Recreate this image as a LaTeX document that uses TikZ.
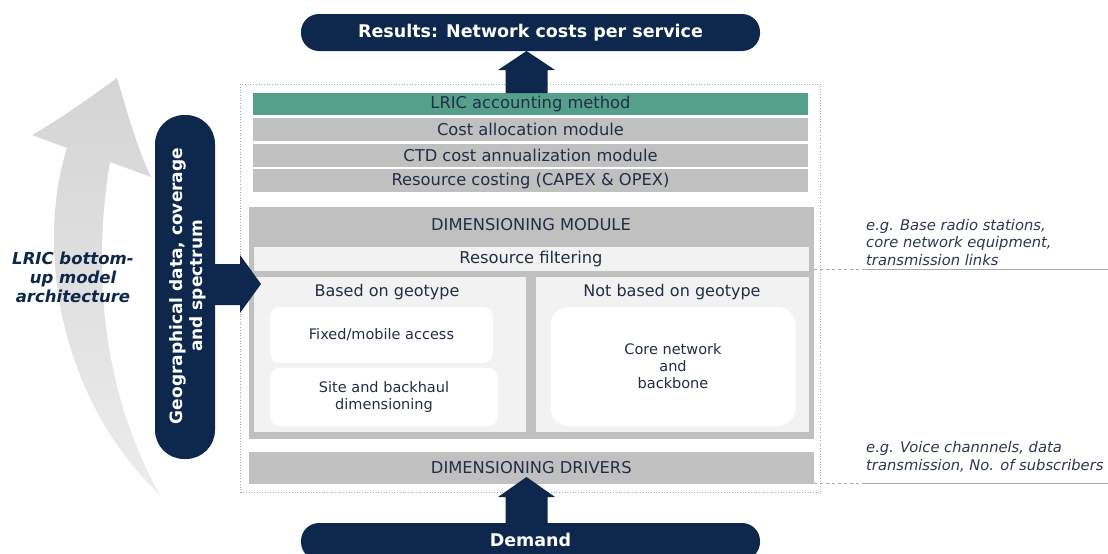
\documentclass[tikz,border=0pt]{standalone}
\usepackage{fontspec}
\setmainfont{DejaVu Sans}
\usetikzlibrary{calc}
\definecolor{navy}{RGB}{13,40,76}
\definecolor{boxgray}{RGB}{192,192,192}
\definecolor{tealband}{RGB}{84,160,139}
\definecolor{panel}{RGB}{242,242,242}
\definecolor{txt}{RGB}{35,45,70}
\definecolor{annot}{RGB}{45,55,80}
\definecolor{arrowtop}{RGB}{212,212,212}
\definecolor{arrowbottom}{RGB}{236,236,236}
\definecolor{frame}{RGB}{170,170,170}
\begin{document}
\begin{tikzpicture}[x=1pt,y=-1pt,
  band/.style={draw=none, inner sep=0pt, outer sep=0pt, text=txt,
    font=\fontsize{16.3}{19}\selectfont},
  pill/.style={fill=navy, draw=none, rounded corners=18pt, inner sep=0pt, outer sep=0pt,
    text=white, font=\bfseries\fontsize{17.5}{20}\selectfont},
  inner/.style={fill=white, draw=none, rounded corners=10pt, inner sep=0pt, outer sep=0pt,
    text=txt, align=center, font=\fontsize{14.5}{17}\selectfont},
  annotext/.style={inner sep=0pt, text=annot, align=left,
    font=\itshape\fontsize{14.7}{17.8}\selectfont},
  guide/.style={draw=frame, line width=0.7pt},
  blockarrow/.style={fill=navy, draw=none}
]
\useasboundingbox (0,0) rectangle (1108,554);

% curved gray arrow
\shade[top color=arrowtop, bottom color=arrowbottom]
  (117,78) .. controls (128,115) and (138,150) .. (151,177)
  -- (110,162) .. controls (95,250) and (95,380) .. (160,495)
  .. controls (60,400) and (35,250) .. (67,148)
  -- (32,135) .. controls (62,118) and (92,96) .. (117,78) -- cycle;

\node[inner sep=0pt, text=navy, align=center,
  font=\bfseries\itshape\fontsize{16.5}{19}\selectfont] (lricarch) at (73,277)
  {LRIC bottom-\\up model\\architecture};

% outer dotted frame
\node[draw=frame, dotted, line width=0.7pt, minimum width=580pt, minimum height=408.5pt,
  inner sep=0pt, outer sep=0pt] (frame) at (530.5,288.25) {};

% top result pill
\node[pill, minimum width=459pt, minimum height=37pt] (results) at (530.5,32.5)
  {Results: Network costs per service};

% stacked bands
\node[band, fill=tealband, minimum width=555pt, minimum height=22.5pt] (lric) at (530.5,104) {LRIC accounting method};
\node[band, fill=boxgray, minimum width=555pt, minimum height=23pt] (costalloc) at (530.5,129) {Cost allocation module};
\node[band, fill=boxgray, minimum width=555pt, minimum height=23pt] (ctd) at (530.5,155) {CTD cost annualization module};
\node[band, fill=boxgray, minimum width=555pt, minimum height=23pt] (rescost) at (530.5,180.8) {Resource costing (CAPEX \& OPEX)};

% dimensioning module
\node[band, fill=boxgray, minimum width=564.6pt, minimum height=232pt] (dimmod) at (531.3,323) {};
\node[band] (dimtitle) at (531,225) {DIMENSIONING MODULE};
\node[band, fill=panel, minimum width=555pt, minimum height=24pt] (resfilter) at (531,258.7) {Resource filtering};
\node[band, fill=panel, minimum width=272pt, minimum height=155pt] (leftpanel) at (389.7,354.5) {};
\node[band, fill=panel, minimum width=272.6pt, minimum height=155pt] (rightpanel) at (672.3,354.5) {};
\node[band, font=\fontsize{16}{18}\selectfont] (geo) at (387,292) {Based on geotype};
\node[band, font=\fontsize{16}{18}\selectfont] (nongeo) at (672,292) {Not based on geotype};
\node[inner, minimum width=223pt, minimum height=56pt] (access) at (381.5,335) {Fixed/mobile access};
\node[inner, minimum width=228pt, minimum height=58pt] (site) at (384,397) {Site and backhaul\\dimensioning};
\node[inner, rounded corners=18pt, minimum width=245pt, minimum height=119pt] (core) at (673,366.5) {};
\node[inner] (coretext) at (673,366.5) {Core network\\and\\backbone};

% dimensioning drivers
\node[band, fill=boxgray, minimum width=564.6pt, minimum height=32pt] (drivers) at (531.3,468) {DIMENSIONING DRIVERS};

% demand pill
\node[pill, minimum width=459pt, minimum height=37pt] (demand) at (530.5,541.5) {};
\node[inner sep=0pt, text=white, font=\bfseries\fontsize{17.5}{20}\selectfont] (demandtext) at (530.5,540) {Demand};

% left pill
\node[pill, rounded corners=29pt, minimum width=60pt, minimum height=344pt] (geopill) at (185,287) {};
\node[inner sep=0pt, text=white, align=center, rotate=90,
  font=\bfseries\fontsize{17}{20}\selectfont] (geotext) at (188,286)
  {Geographical data, coverage\\and spectrum};

% block arrows
\fill[blockarrow] (505.5,93) -- (505.5,70) -- (498,70) -- (526.5,51) -- (555,70) -- (547.6,70) -- (547.6,93) -- cycle;
\fill[blockarrow] (505.5,523) -- (505.5,497) -- (498,497) -- (526.5,477) -- (555,497) -- (547.6,497) -- (547.6,523) -- cycle;
\fill[blockarrow] (210,264) -- (240,264) -- (240,255) -- (261,284) -- (240,313) -- (240,305) -- (210,305) -- cycle;

% annotations
\coordinate (g1) at (862,269);
\coordinate (g2) at (862,483);
\coordinate (e1) at (1108,269);
\coordinate (e2) at (1108,483);
\draw[guide, dashed] (dimmod.east |- g1) -- (g1);
\draw[guide] (g1) -- (e1);
\draw[guide, dashed] (drivers.east |- g2) -- (g2);
\draw[guide] (g2) -- (e2);
\node[annotext, anchor=west] (ann1) at (866,242.5)
  {e.g. Base radio stations,\\core network equipment,\\transmission links};
\node[annotext, anchor=west] (ann2) at (866,457)
  {e.g. Voice channnels, data\\transmission, No. of subscribers};
\end{tikzpicture}
\end{document}
